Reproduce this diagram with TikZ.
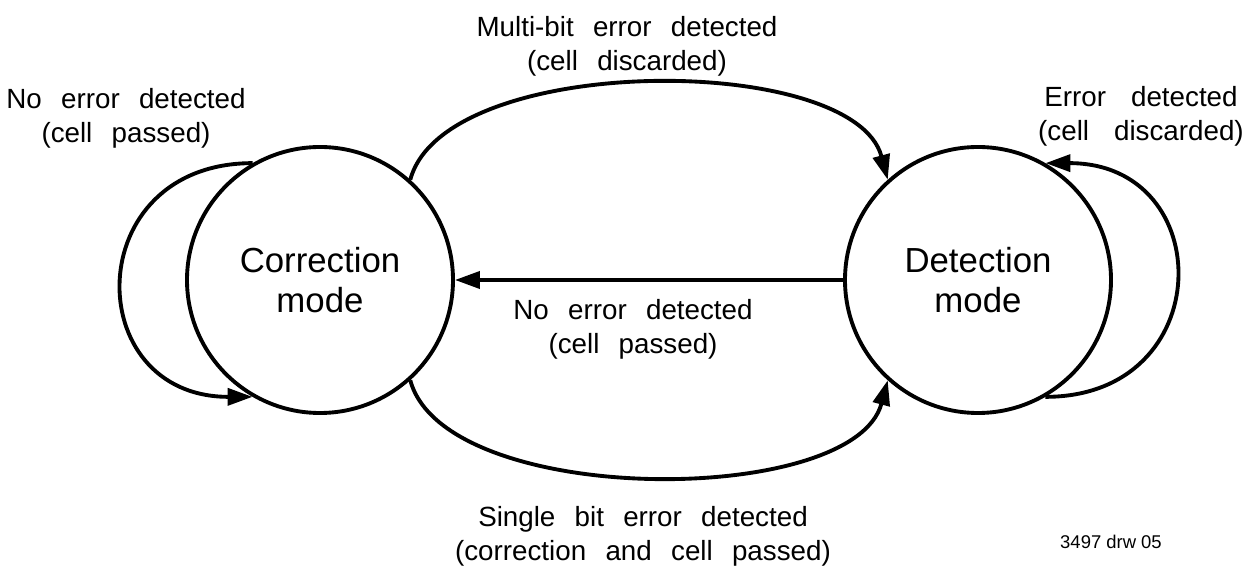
\documentclass[tikz,border=0pt]{standalone}
\usepackage{fontspec}
\setmainfont{Liberation Sans}[WordSpace=2.5]
\newfontfamily\plainsans{Liberation Sans}
\usetikzlibrary{arrows.meta, positioning}
\newcommand{\modefont}{\fontsize{19.8}{22.7}\selectfont}
\newcommand{\labelfont}{\fontsize{15.8}{19.3}\selectfont}

\begin{document}
\begin{tikzpicture}[>={Triangle[length=0.5cm, width=0.34cm]}, line width=2.2pt,
    node distance=13.16cm, on grid,
    modestate/.style={circle, draw, minimum size=5.32cm, inner sep=0pt, align=center, font=\modefont},
    translabel/.style={align=center, font=\labelfont}]

  \useasboundingbox (0,0) rectangle (25.14,11.32);

  \node[modestate] (corr) at (6.40,5.72) {Correction\\mode};
  \node[modestate] (det)  [right=of corr] {Detection\\mode};

  \node[translabel] (corrlbl) [above left=3.24cm and 3.88cm of corr] {No error detected\\(cell passed)};
  \node[translabel] (detlbl)  [above right=3.28cm and 3.26cm of det] {Error\hspace{0.9em}detected\\(cell\hspace{0.9em}discarded)};
  \node[font={\plainsans\fontsize{10.5}{12}\selectfont}] (drwno) [below right=5.24cm and 2.66cm of det] {3497 drw 05};

  \path[->] (corr.48) edge [out=75, in=105, looseness=0.71]
                node[translabel, above, xshift=-0.44cm] {Multi-bit error detected\\(cell discarded)} (det.132)
            (det) edge
                node[translabel, below=0.24cm, xshift=-0.32cm] {No error detected\\(cell passed)} (corr)
            (corr.-48) edge [out=-75, in=-105, looseness=0.71]
                node[translabel, below=0.46cm, xshift=-0.12cm] {Single bit error detected\\(correction and cell passed)} (det.228)
            (corr.120) edge [out=180, in=180, looseness=1.90] (corr.240)
            (det.300) edge [out=0, in=0, looseness=1.90] (det.60);
\end{tikzpicture}
\end{document}
